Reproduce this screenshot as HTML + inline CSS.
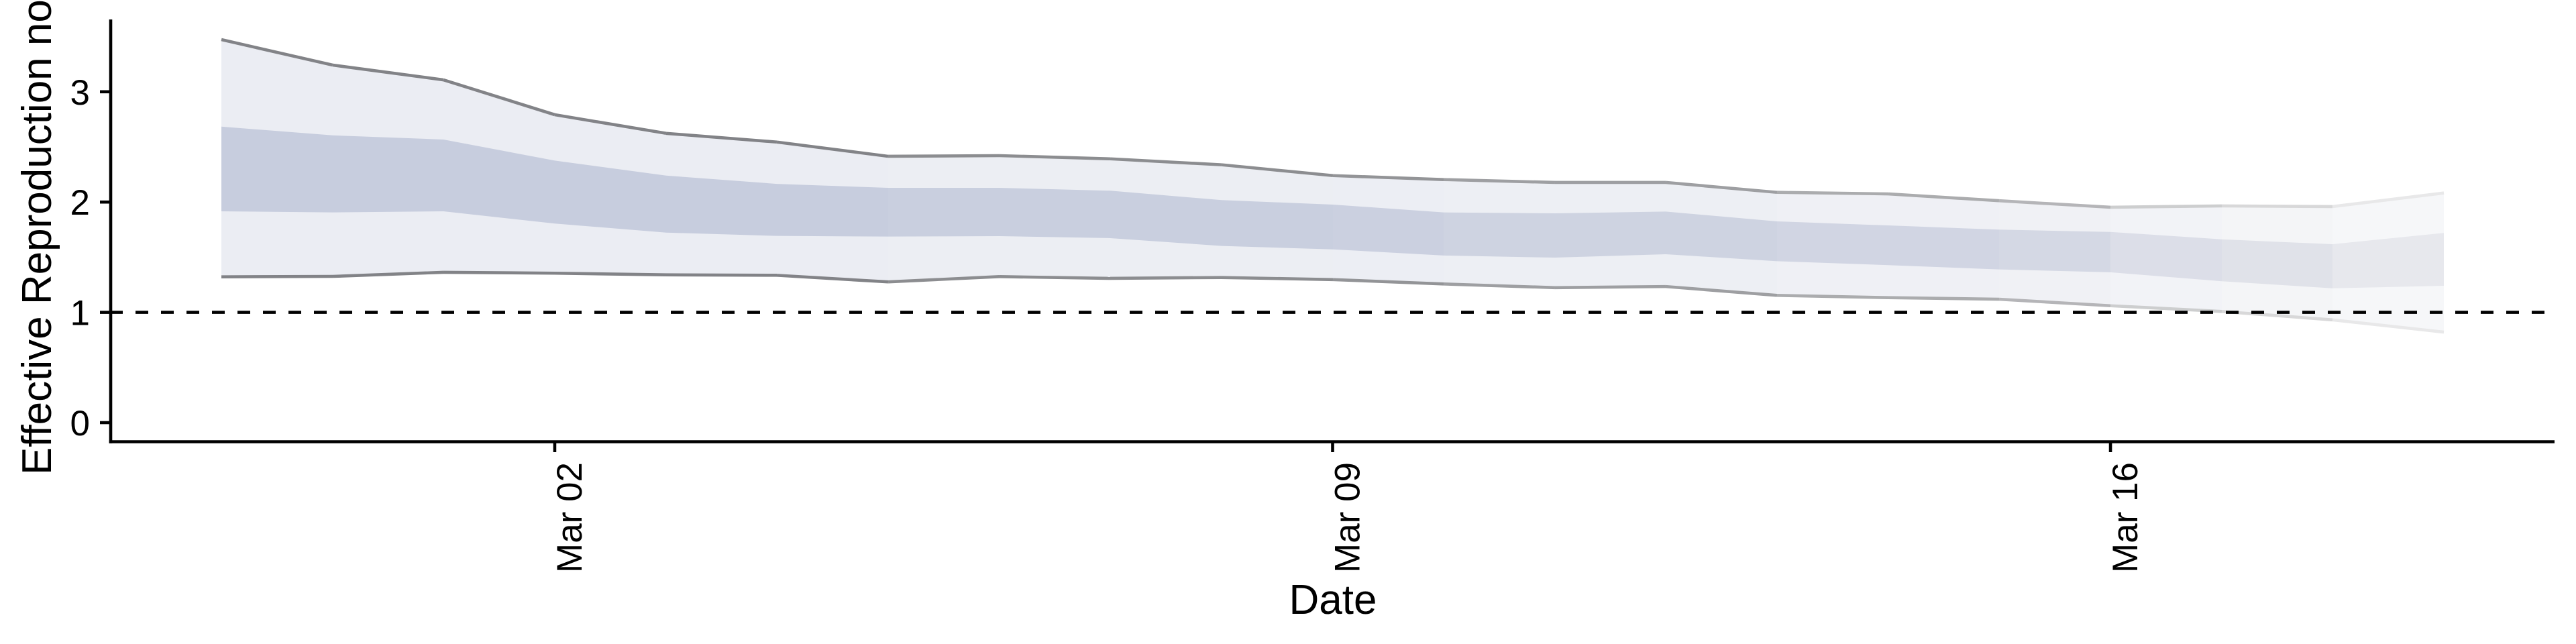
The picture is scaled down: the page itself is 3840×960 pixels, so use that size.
<!DOCTYPE html>
<html lang="en">
<head>
<meta charset="utf-8">
<title>Effective Reproduction number</title>
<style>
html,body{margin:0;padding:0;background:#fff;width:3840px;height:960px;overflow:hidden}
svg{display:block}
text{font-family:"Liberation Sans",Arial,sans-serif;fill:#000}
</style>
</head>
<body>
<svg id="chart" xmlns="http://www.w3.org/2000/svg" width="3840" height="960" viewBox="0 0 3840 960">
  <rect x="0" y="0" width="3840" height="960" fill="#ffffff"/>
  <g id="ribbons"></g>
  <g id="bounds"></g>
  <g id="axes"></g>
  <text x="1987" y="915" font-size="62" text-anchor="middle">Date</text>
  <text transform="translate(76,708) rotate(-90)" font-size="62">Effective Reproduction no.</text>
</svg>
<script>
const dates = ['Feb 28','Feb 29','Mar 01','Mar 02','Mar 03','Mar 04','Mar 05','Mar 06','Mar 07','Mar 08','Mar 09','Mar 10','Mar 11','Mar 12','Mar 13','Mar 14','Mar 15','Mar 16','Mar 17','Mar 18','Mar 19'];
const outerUpper = [3.473,3.242,3.108,2.792,2.623,2.544,2.415,2.421,2.392,2.338,2.240,2.204,2.178,2.178,2.088,2.074,2.012,1.953,1.965,1.959,2.082];
const innerUpper = [2.684,2.605,2.567,2.376,2.240,2.165,2.129,2.129,2.103,2.018,1.977,1.906,1.898,1.914,1.825,1.788,1.750,1.729,1.662,1.618,1.720];
const innerLower = [1.916,1.906,1.916,1.805,1.723,1.693,1.687,1.691,1.673,1.602,1.571,1.515,1.496,1.527,1.464,1.428,1.389,1.363,1.282,1.218,1.241];
const outerLower = [1.322,1.326,1.363,1.355,1.340,1.336,1.276,1.324,1.308,1.316,1.297,1.257,1.224,1.234,1.154,1.133,1.119,1.060,1.008,0.932,0.821];
const certainty = [1,1,1,1,1,1,0.96,0.96,0.96,0.96,0.93,0.88,0.88,0.88,0.82,0.82,0.77,0.63,0.56,0.43];
const yTickValues = [0,1,2,3];
const xTickLabels = ['Mar 02','Mar 09','Mar 16'];
const referenceValue = 1;

const NS = 'http://www.w3.org/2000/svg';
const X0 = 330, XSTEP = 165.65, Y0 = 630, YUNIT = 164.4;
const xScale = i => Math.round(X0 + i * XSTEP);
const yScale = v => Y0 - v * YUNIT;
const OUTER = [235,237,243], INNER = [199,205,222], LINE = [130,131,135];
const shade = (c, a, k) => 'rgb(' + c.map((v, n) => Math.round(255 - (255 - v) * a - [0, 0.4, 1][n] * k * (1 - a))).join(',') + ')';

function make(tag, attrs, parent) {
  const el = document.createElementNS(NS, tag);
  for (const k in attrs) el.setAttribute(k, attrs[k]);
  parent.appendChild(el);
  return el;
}
function band(hi, lo, i) {
  return [[xScale(i), yScale(hi[i])], [xScale(i + 1), yScale(hi[i + 1])], [xScale(i + 1), yScale(lo[i + 1])], [xScale(i), yScale(lo[i])]]
    .map(p => p[0] + ',' + p[1].toFixed(2)).join(' ');
}

const ribbons = document.getElementById('ribbons');
const bounds = document.getElementById('bounds');
const axes = document.getElementById('axes');

for (let i = 0; i < dates.length - 1; i++) {
  const a = certainty[i];
  const outerBand = make('polygon', {points: band(outerUpper, outerLower, i), fill: shade(OUTER, a, 2)}, ribbons);
  
  
  const innerBand = make('polygon', {points: band(innerUpper, innerLower, i), fill: shade(INNER, a, 7)}, ribbons);
  
  
  const lineColor = shade(LINE, a * a, 0);
  const upperLine = make('line', {x1: xScale(i), y1: yScale(outerUpper[i]), x2: xScale(i + 1), y2: yScale(outerUpper[i + 1]), stroke: lineColor, 'stroke-width': 4.6}, bounds);
  
  
  const lowerLine = make('line', {x1: xScale(i), y1: yScale(outerLower[i]), x2: xScale(i + 1), y2: yScale(outerLower[i + 1]), stroke: lineColor, 'stroke-width': 4.6}, bounds);
  
  
}

const AXIS_X = 165, AXIS_Y = 658.5, AXIS_TOP = 29, AXIS_RIGHT = 3808;

const refLine = make('line', {x1: 164, x2: AXIS_RIGHT, y1: yScale(referenceValue), y2: yScale(referenceValue), stroke: '#000', 'stroke-width': 4.6, 'stroke-dasharray': '19 19'}, axes);



const yAxisLine = make('line', {x1: AXIS_X, x2: AXIS_X, y1: AXIS_TOP, y2: AXIS_Y + 2.3, stroke: '#000', 'stroke-width': 4.6}, axes);


const xAxisLine = make('line', {x1: AXIS_X - 2.3, x2: AXIS_RIGHT, y1: AXIS_Y, y2: AXIS_Y, stroke: '#000', 'stroke-width': 4.6}, axes);



yTickValues.forEach(v => {
  const tick = make('line', {x1: 149, x2: AXIS_X, y1: yScale(v), y2: yScale(v), stroke: '#000', 'stroke-width': 4.6}, axes);
  
  
  const label = make('text', {x: 134, y: yScale(v) + 19, 'font-size': 53, 'text-anchor': 'end'}, axes);
  
  
  label.textContent = String(v);
});

xTickLabels.forEach(name => {
  const x = X0 + dates.indexOf(name) * XSTEP;
  const tick = make('line', {x1: x, x2: x, y1: AXIS_Y, y2: 674, stroke: '#000', 'stroke-width': 4.6}, axes);
  
  
  const label = make('text', {transform: 'translate(' + (x + 40) + ',689) rotate(-90)', 'font-size': 53, 'text-anchor': 'end'}, axes);
  
  
  label.textContent = name;
});
</script>
</body>
</html>
